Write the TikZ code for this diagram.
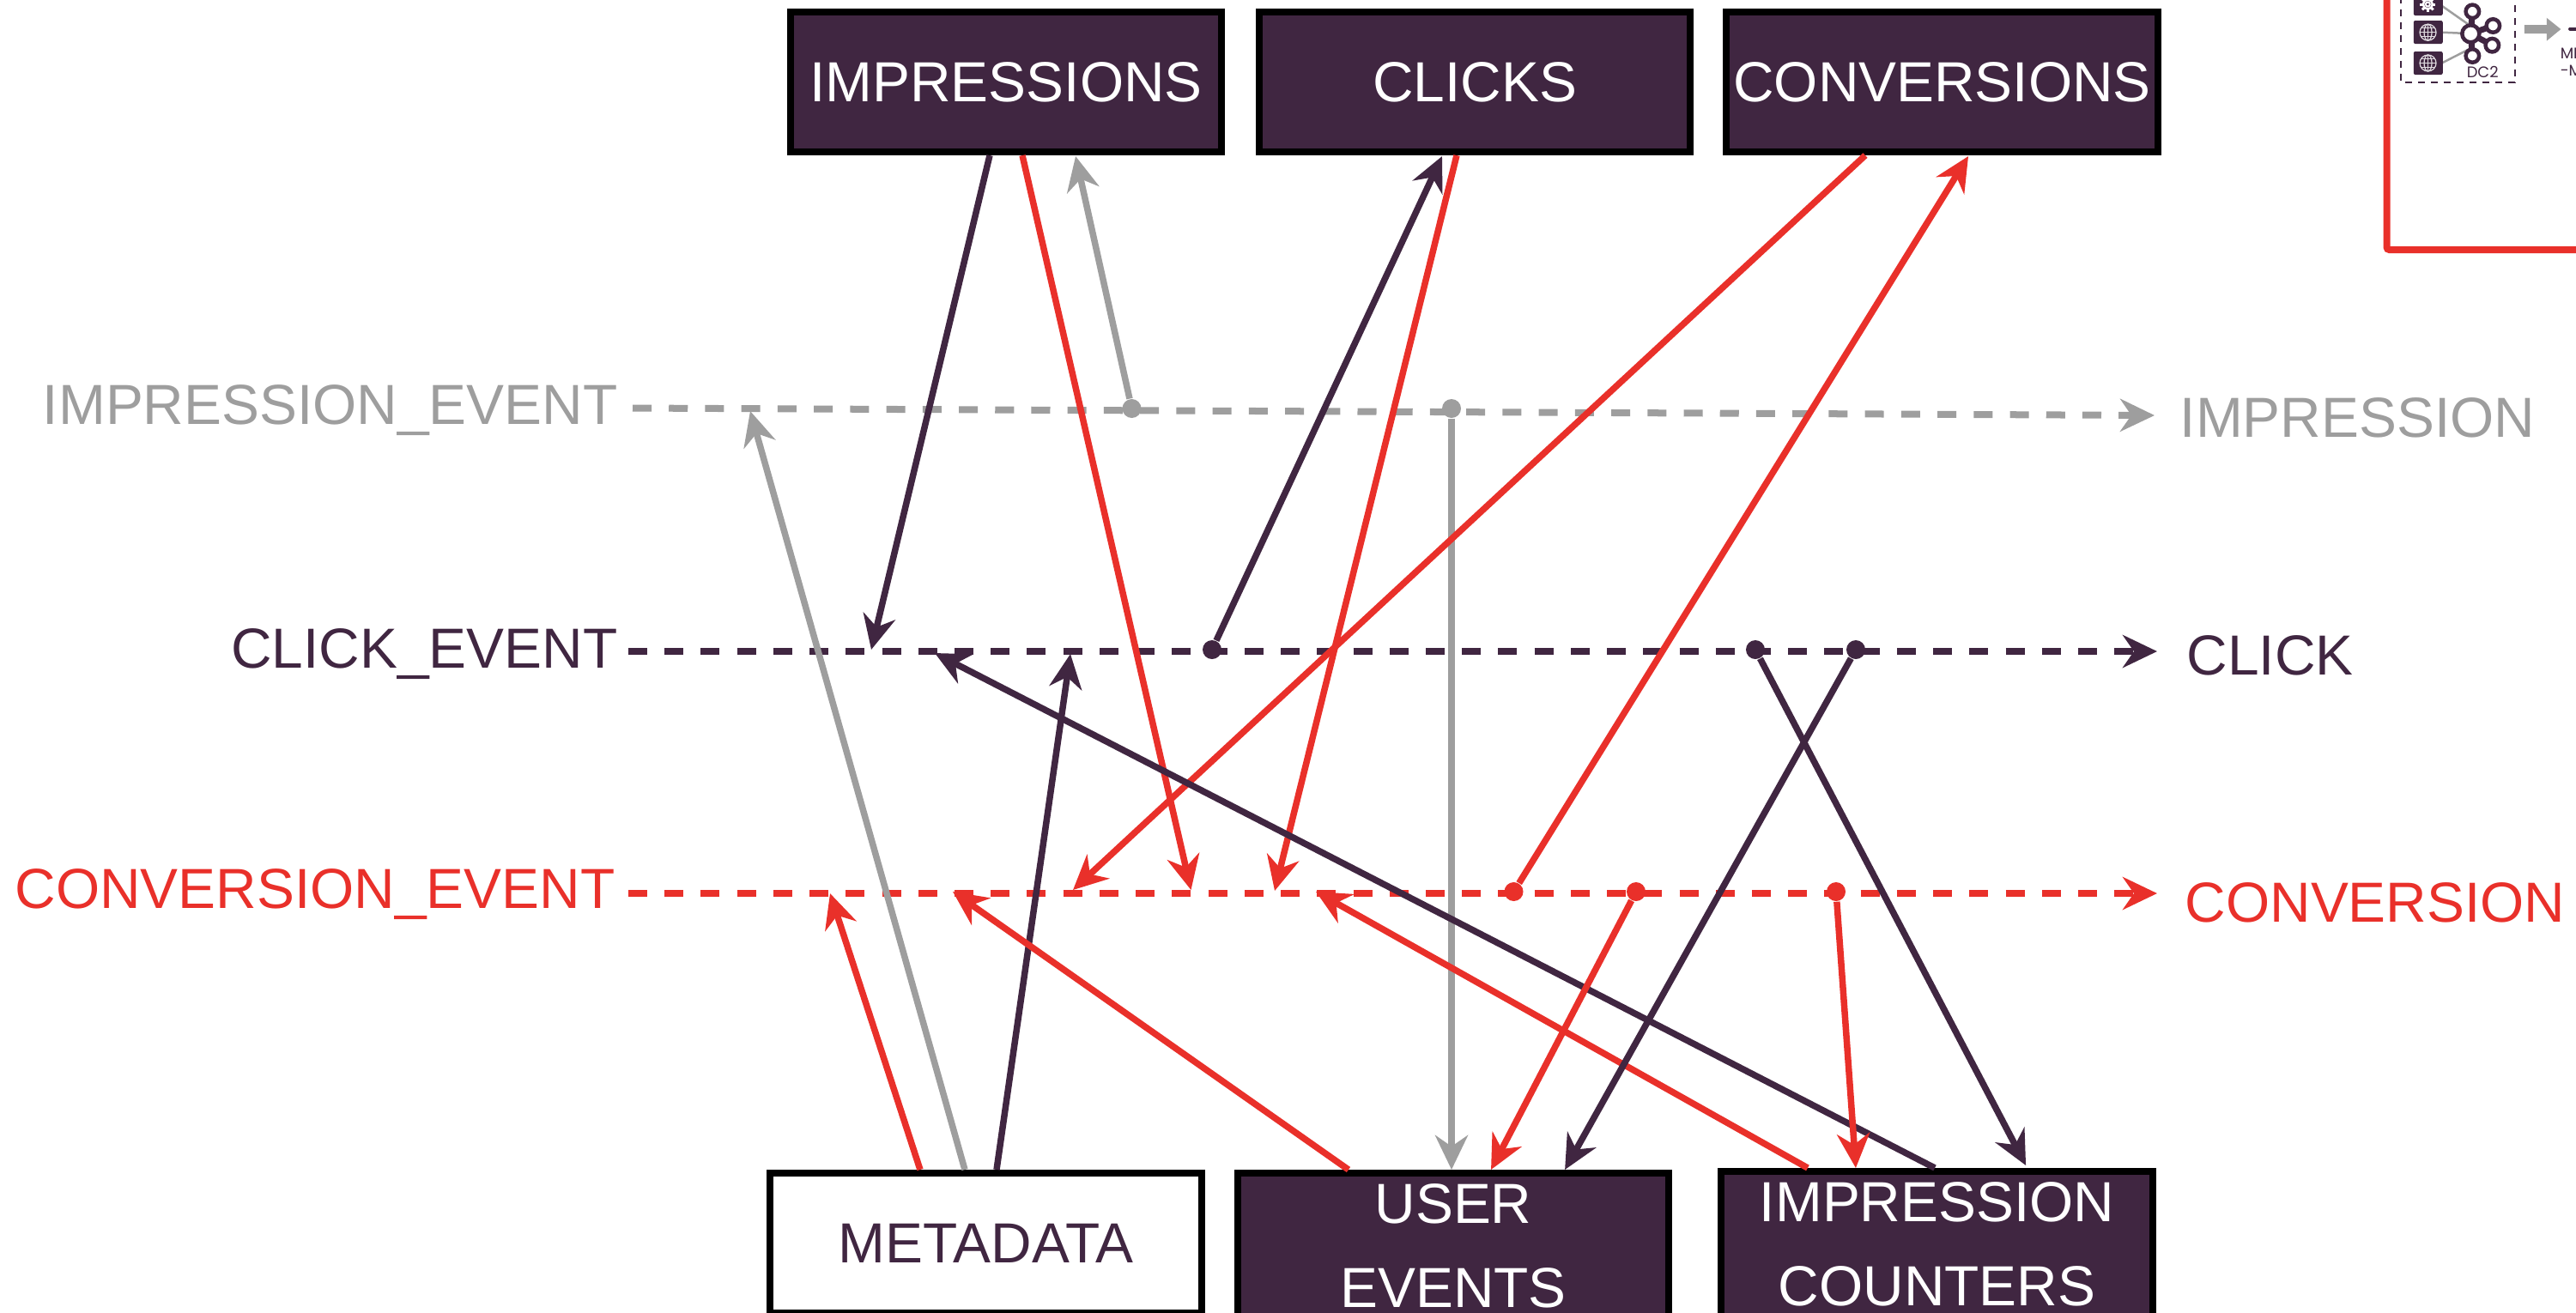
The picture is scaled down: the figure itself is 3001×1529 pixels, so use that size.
\documentclass[tikz,border=0pt]{standalone}
\usepackage{fontspec}
\setmainfont{Liberation Sans}
\newfontfamily\insetfont{Poppins}
\usetikzlibrary{arrows.meta,calc}
\definecolor{plum}{HTML}{402641}
\definecolor{redc}{HTML}{E9302A}
\definecolor{greyc}{HTML}{9E9E9E}
\newcommand{\bigtext}{\fontsize{18.72pt}{27.9pt}\selectfont}
\newcommand{\smalltext}{\fontsize{5.1pt}{5.7pt}\selectfont\insetfont}
\tikzset{
  darkbox/.style={draw=black,fill=plum,text=white,line width=0.08cm,minimum width=5.02cm,minimum height=1.63cm,inner sep=0,align=center,font=\bigtext},
  lightbox/.style={darkbox,fill=white,text=plum},
  lab/.style={inner sep=0,font=\bigtext},
  tipshape/.style={-{Stealth[length=0.40cm,width=0.38cm,inset=0.13cm]}},
  link/.style={line width=0.075cm,tipshape},
  flow/.style={line width=0.08cm,dash pattern=on 0.22cm off 0.202cm,tipshape},
  dotg/.style={circle,fill=greyc,inner sep=0,minimum size=0.22cm},
  dotp/.style={circle,fill=plum,inner sep=0,minimum size=0.22cm},
  dotr/.style={circle,fill=redc,inner sep=0,minimum size=0.22cm},
  iconbox/.style={fill=plum,rounded corners=0.02cm},
  hubring/.style={draw=plum,fill=white,line width=0.045cm},
}
\begin{document}
\begin{tikzpicture}[x=0.01cm,y=-0.01cm]
\useasboundingbox (0,0) rectangle (3001,1529);
\clip (0,0) rectangle (3001,1529);
% boxes
\node[darkbox] (imp) at (1172,95.5) {IMPRESSIONS};
\node[darkbox] (clk) at (1718,95.5) {CLICKS};
\node[darkbox] (cnv) at (2262.5,95.5) {CONVERSIONS};
\node[lightbox,minimum height=1.63cm] (meta) at (1148.5,1448.5) {METADATA};
\node[darkbox,minimum height=1.69cm] (user) at (1693,1451.5) {USER\\EVENTS};
\node[darkbox,minimum height=1.69cm] (ctr) at (2256.5,1449.5) {IMPRESSION\\COUNTERS};
% labels
\node[lab,text=greyc,anchor=base east] (ievt) at (720,494) {IMPRESSION\_EVENT};
\node[lab,text=plum,anchor=base east] (cevt) at (720,778) {CLICK\_EVENT};
\node[lab,text=redc,anchor=base east] (vevt) at (717,1058) {CONVERSION\_EVENT};
\node[lab,text=greyc,anchor=base west] (iout) at (2539,509) {IMPRESSION};
\node[lab,text=plum,anchor=base west] (cout) at (2547,786) {CLICK};
\node[lab,text=redc,anchor=base west] (vout) at (2545,1074) {CONVERSION};
% event lines
\draw[flow,greyc] ([shift={(17,-18.5)}]ievt.base east) -- ([shift={(-29,-25)}]iout.base west);
\draw[flow,plum] ([shift={(12,-19)}]cevt.base east) -- ([shift={(-34,-27)}]cout.base west);
\draw[flow,redc] ([shift={(15,-17)}]vevt.base east) -- ([shift={(-32,-33)}]vout.base west);
% dots
\node[dotg] (g1) at (1318.5,476) {};
\node[dotg] (g2) at (1691,476) {};
\node[dotp] (p1) at (1412,757) {};
\node[dotp] (p2) at (2045,757) {};
\node[dotp] (p3) at (2162,757) {};
\node[dotr] (r1) at (1763.5,1039) {};
\node[dotr] (r2) at (1906,1039) {};
\node[dotr] (r3) at (2139,1039) {};
% arrow ends on event lines
\coordinate (tc1) at (1015,757);
\coordinate (tc2) at (1247,762);
\coordinate (tc3) at (1089,761);
\coordinate (ti1) at (874,479);
\coordinate (tv1) at (1387.5,1037);
\coordinate (tv2) at (1485,1038);
\coordinate (tv3) at (1250,1037);
\coordinate (tv4) at (967,1041);
\coordinate (tv5) at (1110,1039);
\coordinate (tv6) at (1533,1039);
% connectors
\draw[link,plum] ([xshift=-0.19cm]imp.south) -- (tc1);
\draw[link,redc] ([xshift=0.19cm]imp.south) -- (tv1);
\draw[link,greyc] (g1) -- ([xshift=0.81cm,yshift=-0.01cm]imp.south);
\draw[link,plum] (p1) -- ([xshift=-0.38cm,yshift=-0.01cm]clk.south);
\draw[link,redc] ([xshift=-0.21cm]clk.south) -- (tv2);
\draw[link,greyc] (g2) -- (g2 |- user.north);
\draw[link,redc] ([xshift=-0.895cm]cnv.south) -- (tv3);
\draw[link,redc] (r1) -- ([xshift=0.305cm,yshift=-0.01cm]cnv.south);
\draw[link,greyc] ([xshift=-0.245cm]meta.north) -- (ti1);
\draw[link,plum] ([xshift=0.125cm]meta.north) -- (tc2);
\draw[link,redc] ([xshift=-0.765cm]meta.north) -- (tv4);
\draw[link,redc] ([xshift=-1.22cm]user.north) -- (tv5);
\draw[link,redc] ([xshift=-1.505cm]ctr.north) -- (tv6);
\draw[link,plum] ([xshift=-0.025cm]ctr.north) -- (tc3);
\draw[link,plum] (p2) -- ([xshift=1.035cm,yshift=0.03cm]ctr.north);
\draw[link,plum] (p3) -- ([xshift=1.30cm]user.north);
\draw[link,redc] (r2) -- ([xshift=0.44cm]user.north);
\draw[link,redc] (r3) -- ([xshift=-0.945cm]ctr.north);
% inset, upper right corner
\draw[redc,line width=0.08cm,rounded corners=0.03cm] (2780.5,-20) -- (2780.5,291) -- (3020,291);
\draw[plum,line width=0.025cm,dash pattern=on 0.08cm off 0.07cm] (2797,-4) -- (2797,96) -- (2930,96) -- (2930,-4);
\draw[greyc,line width=0.025cm] (2845,7) -- (2875,28);
\draw[greyc,line width=0.025cm] (2845,37.7) -- (2868,38.7);
\draw[greyc,line width=0.025cm] (2845,73.3) -- (2875,58);
\fill[iconbox] (2811.7,-10) rectangle (2845.7,18);
\fill[iconbox] (2811.7,24) rectangle (2845.7,51);
\fill[iconbox] (2811.7,60) rectangle (2845.7,87);
% gear
\foreach \a in {0,45,...,315}{\draw[white,line width=0.03cm] ($(2828.3,5)+(\a:4.5)$) -- ($(2828.3,5)+(\a:9)$);}
\draw[white,line width=0.025cm] (2828.3,5) circle[radius=5.5];
\fill[plum] (2828.3,5) circle[radius=2];
\draw[white,line width=0.02cm] (2828.3,5) circle[radius=2.5];
% globes
\foreach \yy in {37.7,73.5}{
  \draw[white!85!plum,line width=0.012cm] (2828.5,\yy) circle[radius=9.5];
  \draw[white!85!plum,line width=0.012cm] (2828.5,\yy) ellipse[x radius=4.5,y radius=9.5];
  \draw[white!85!plum,line width=0.012cm] (2828.5,\yy-9.5) -- (2828.5,\yy+9.5);
  \draw[white!85!plum,line width=0.012cm] (2819,\yy) -- (2838,\yy);
  \draw[white!85!plum,line width=0.012cm] (2820.5,\yy-5) -- (2836.5,\yy-5);
  \draw[white!85!plum,line width=0.012cm] (2820.5,\yy+5) -- (2836.5,\yy+5);
}
% hub
\draw[plum,line width=0.07cm] (2880.3,13.3) -- (2878.3,39.3) -- (2904.3,30);
\draw[plum,line width=0.07cm] (2880.3,65) -- (2878.3,39.3) -- (2903.3,52.7);
\draw[hubring] (2880.3,13.3) circle[radius=7.75];
\draw[hubring] (2904.3,30) circle[radius=7.75];
\draw[hubring] (2903.3,52.7) circle[radius=7.75];
\draw[hubring] (2880.3,65) circle[radius=7.75];
\draw[hubring] (2878.3,39.3) circle[radius=10];
\node[inner sep=0,anchor=base west,text=plum,font=\smalltext] (dc) at (2873,90.7) {DC2};
% grey block arrow and start of next part
\fill[greyc] (2940.7,29) -- (2966.7,29) -- (2966.7,20.7) -- (2983.3,34) -- (2966.7,47.7) -- (2966.7,39) -- (2940.7,39) -- cycle;
\draw[plum,line width=0.04cm,line cap=round] (2994,33.5) -- (3010,33.5);
\node[inner sep=0,anchor=base west,text=plum,font=\smalltext] (mi) at (2982,68) {MI};
\node[inner sep=0,anchor=base west,text=plum,font=\smalltext] (mm) at (2982,88) {-M};
\end{tikzpicture}
\end{document}
